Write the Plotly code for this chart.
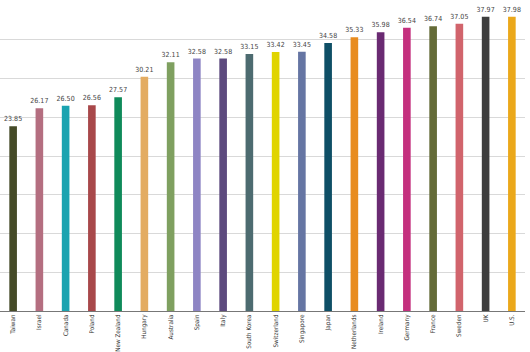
import plotly.graph_objects as go

countries = ["Taiwan", "Israel", "Canada", "Poland", "New Zealand", "Hungary", "Australia",
             "Spain", "Italy", "South Korea", "Switzerland", "Singapore", "Japan",
             "Netherlands", "Ireland", "Germany", "France", "Sweden", "UK", "U.S."]
values = [23.85, 26.17, 26.50, 26.56, 27.57, 30.21, 32.11, 32.58, 32.58, 33.15, 33.42,
          33.45, 34.58, 35.33, 35.98, 36.54, 36.74, 37.05, 37.97, 37.98]
colors = ["#454b28", "#b46e80", "#1ba3b0", "#a8484a", "#0f8a5a", "#e3ac62", "#7fa060",
          "#8e85c4", "#5d4a7e", "#4d6b70", "#e0d400", "#6575a3", "#0e4f66", "#e88c1f",
          "#6a2a72", "#c4307e", "#646b38", "#d1646c", "#3e3e3e", "#eba81a"]

fig = go.Figure(go.Bar(
    x=countries, y=values, marker=dict(color=colors, line=dict(width=0)),
    text=[f"{v:.2f}" for v in values], textposition="outside", constraintext="none",
    textfont=dict(size=7, color="#444", family="DejaVu Sans Condensed, DejaVu Sans"),
    cliponaxis=False, width=0.29,
))
fig.update_layout(
    width=530, height=352, margin=dict(l=0, r=5, t=1, b=41),
    paper_bgcolor="white", plot_bgcolor="white", showlegend=False,
    xaxis=dict(tickangle=-90, automargin=False, ticklabelstandoff=0,
               tickfont=dict(size=6.3, color="#333", family="DejaVu Sans Condensed, DejaVu Sans"),
               showline=True, linecolor="#777", linewidth=1, ticks="", range=[-0.5, 19.5]),
    yaxis=dict(range=[0, 40], dtick=5, showticklabels=False, gridcolor="#d9d9d9",
               gridwidth=1, zeroline=False, automargin=False),
)
fig.write_html("out.html")
